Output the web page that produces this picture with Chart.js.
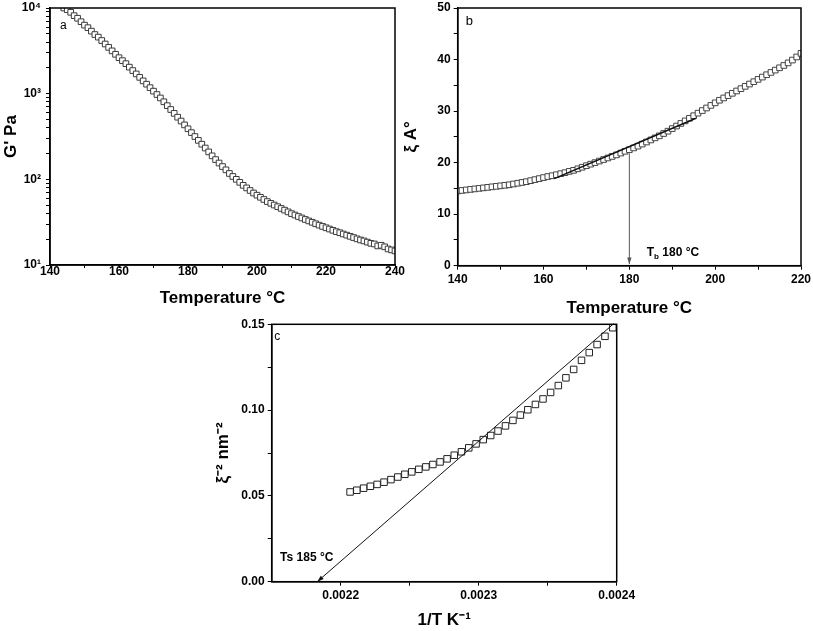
<!DOCTYPE html>
<html lang="en">
<head>
<meta charset="UTF-8">
<title>G', correlation length and inverse square vs temperature</title>
<script src="https://cdn.jsdelivr.net/npm/chart.js"></script>
<style>
  body { margin: 0; background: #fff; overflow: hidden; }
  .panel { position: absolute; }
</style>
</head>
<body>
<div class="panel" style="left:0;top:0;width:405px;height:310px"><canvas id="chartA"></canvas></div>
<div class="panel" style="left:395px;top:0;width:418px;height:322px"><canvas id="chartB"></canvas></div>
<div class="panel" style="left:200px;top:312px;width:450px;height:319px"><canvas id="chartC"></canvas></div>
<script>
// ---- panel a : storage modulus G' (Pa) vs temperature, log axis
const tempA = [
  144, 145, 146, 147, 148, 149, 150, 151, 152, 153,
  154, 155, 156, 157, 158, 159, 160, 161, 162, 163,
  164, 165, 166, 167, 168, 169, 170, 171, 172, 173,
  174, 175, 176, 177, 178, 179, 180, 181, 182, 183,
  184, 185, 186, 187, 188, 189, 190, 191, 192, 193,
  194, 195, 196, 197, 198, 199, 200, 201, 202, 203,
  204, 205, 206, 207, 208, 209, 210, 211, 212, 213,
  214, 215, 216, 217, 218, 219, 220, 221, 222, 223,
  224, 225, 226, 227, 228, 229, 230, 231, 232, 233,
  234, 235, 236, 237, 238, 239, 240
];
const gPrimeA = [
  10000, 9550, 8910, 8130, 7590, 6920, 6310, 5890, 5370, 4900,
  4570, 4170, 3800, 3470, 3160, 2880, 2630, 2430, 2240, 2040,
  1860, 1700, 1550, 1410, 1290, 1175, 1070, 977, 891, 804,
  724, 653, 589, 531, 479, 432, 389, 351, 316, 285,
  257, 232, 209, 188, 170, 155, 141, 129, 117, 108,
  100, 92.3, 85.1, 79.4, 74.1, 69.2, 65.3, 61.7, 58.2, 55.0,
  52.5, 50.1, 47.9, 45.7, 43.7, 41.7, 39.8, 38.3, 36.8, 35.4,
  34.0, 32.7, 31.5, 30.3, 29.2, 28.2, 27.2, 26.3, 25.4, 24.5,
  23.8, 23.0, 22.3, 21.6, 20.9, 20.2, 19.6, 19.1, 18.5, 17.9,
  17.6, 16.7, 17.0, 16.3, 15.4, 15.0, 14.6
];
const xTicksA = [140, 150, 160, 170, 180, 190, 200, 210, 220, 230, 240];
const xLabelsA = ['140', '', '160', '', '180', '', '200', '', '220', '', '240'];
const yTicksA = [10, 20, 30, 40, 50, 60, 70, 80, 90,
  100, 200, 300, 400, 500, 600, 700, 800, 900,
  1000, 2000, 3000, 4000, 5000, 6000, 7000, 8000, 9000, 10000];
const yMajorA = [10, 100, 1000, 10000];
const yMajorTextA = ['10¹', '10²', '10³', '10⁴'];

// ---- panel b : correlation length xi (A) vs temperature
const tempB = [
  140, 141, 142, 143, 144, 145, 146, 147, 148, 149,
  150, 151, 152, 153, 154, 155, 156, 157, 158, 159,
  160, 161, 162, 163, 164, 165, 166, 167, 168, 169,
  170, 171, 172, 173, 174, 175, 176, 177, 178, 179,
  180, 181, 182, 183, 184, 185, 186, 187, 188, 189,
  190, 191, 192, 193, 194, 195, 196, 197, 198, 199,
  200, 201, 202, 203, 204, 205, 206, 207, 208, 209,
  210, 211, 212, 213, 214, 215, 216, 217, 218, 219, 220
];
const xiB = [
  14.5, 14.6, 14.7, 14.8, 14.9, 15.0, 15.1, 15.2, 15.3, 15.4,
  15.5, 15.6, 15.7, 15.85, 16.0, 16.15, 16.3, 16.5, 16.7, 16.9,
  17.1, 17.3, 17.45, 17.65, 17.85, 18.05, 18.3, 18.5, 18.8, 19.1,
  19.4, 19.7, 20.0, 20.3, 20.6, 20.9, 21.2, 21.5, 21.85, 22.2,
  22.5, 22.85, 23.2, 23.6, 24.0, 24.4, 24.8, 25.2, 25.65, 26.1,
  26.6, 27.1, 27.6, 28.1, 28.6, 29.1, 29.6, 30.1, 30.6, 31.1,
  31.6, 32.1, 32.55, 33.0, 33.45, 33.9, 34.35, 34.8, 35.25, 35.7,
  36.15, 36.6, 37.05, 37.5, 37.95, 38.4, 38.85, 39.35, 39.9, 40.5, 41.2
];
const tangentB_T = [162.5, 195.5];
const tangentB_Xi = [16.9, 28.6];
const arrowB_T = [180, 180];
const arrowB_Xi = [21.8, 0.3];
const xTicksB = [140, 150, 160, 170, 180, 190, 200, 210, 220];
const xLabelsB = ['140', '', '160', '', '180', '', '200', '', '220'];
const yTicksB = [0, 5, 10, 15, 20, 25, 30, 35, 40, 45, 50];
const yLabelsB = ['0', '', '10', '', '20', '', '30', '', '40', '', '50'];

// ---- panel c : xi^-2 (nm^-2) vs 1/T (K^-1)
const invTC = [
  0.0022068, 0.0022117, 0.0022166, 0.0022215, 0.0022264, 0.0022314, 0.0022364, 0.0022414,
  0.0022465, 0.0022515, 0.0022566, 0.0022617, 0.0022668, 0.0022720, 0.0022771, 0.0022823,
  0.0022875, 0.0022928, 0.0022981, 0.0023033, 0.0023087, 0.0023140, 0.0023194, 0.0023248,
  0.0023302, 0.0023356, 0.0023411, 0.0023466, 0.0023521, 0.0023577, 0.0023632, 0.0023688,
  0.0023745, 0.0023801, 0.0023858, 0.0023915, 0.0023972
];
const xiInvSqC = [
  0.0523, 0.0533, 0.0545, 0.0556, 0.0567, 0.0580, 0.0595, 0.0610,
  0.0626, 0.0640, 0.0655, 0.0669, 0.0683, 0.0698, 0.0716, 0.0737,
  0.0757, 0.0780, 0.0803, 0.0828, 0.0852, 0.0878, 0.0908, 0.0940,
  0.0971, 0.1002, 0.1033, 0.1065, 0.1103, 0.1143, 0.1188, 0.1237,
  0.1290, 0.1335, 0.1382, 0.1430, 0.1480
];
const fitC_X = [0.002398, 0.002183];
const fitC_Y = [0.1505, 0.0];
const xTicksC = [0.0022, 0.00225, 0.0023, 0.00235, 0.0024];
const xLabelsC = ['0.0022', '', '0.0023', '', '0.0024'];
const yTicksC = [0, 0.025, 0.05, 0.075, 0.10, 0.125, 0.15];
const yLabelsC = ['0.00', '', '0.05', '', '0.10', '', '0.15'];

const FONT = "'Liberation Sans', Arial, sans-serif";
Chart.defaults.font.family = FONT;
Chart.defaults.color = '#000';

function pairs(xs, ys) {
  return xs.map((x, i) => ({ x: x, y: ys[i] }));
}

// one axis with fixed size, explicit ticks, outward tick marks
function axis(o) {
  return {
    type: o.type || 'linear',
    min: o.min,
    max: o.max,
    afterBuildTicks: s => { s.ticks = o.ticks.map(v => ({ value: v })); },
    afterFit: s => {
      if (s.isHorizontal()) s.height = o.size; else s.width = o.size;
      s.paddingLeft = s.paddingRight = s.paddingTop = s.paddingBottom = 0;
    },
    ticks: {
      autoSkip: false, maxRotation: 0, minRotation: 0, color: '#000', padding: o.pad,
      font: { family: FONT, size: 12, weight: 'bold' },
      callback: (v, i) => o.labels(v, i)
    },
    grid: { drawOnChartArea: false, tickLength: o.tickLen, tickColor: '#000', tickWidth: 1 },
    border: { display: true, color: '#000', width: 1.5 },
    title: {
      display: true, text: o.title, color: '#000', padding: o.titlePad,
      font: { family: FONT, size: 17, weight: 'bold' }
    }
  };
}

// frame, arrows and text notes
const extras = {
  id: 'extras',
  afterDatasetsDraw(chart, args, opts) {
    const { ctx, chartArea: a } = chart;
    const sx = chart.scales.x, sy = chart.scales.y;
    ctx.save();
    ctx.strokeStyle = '#000';
    ctx.lineWidth = 1.5;
    ctx.strokeRect(a.left, a.top, a.right - a.left, a.bottom - a.top);

    (opts.arrows || []).forEach(ar => {
      const x0 = sx.getPixelForValue(ar.x[0]), y0 = sy.getPixelForValue(ar.y[0]);
      const x1 = sx.getPixelForValue(ar.x[1]), y1 = sy.getPixelForValue(ar.y[1]);
      ctx.strokeStyle = ar.color;
      ctx.fillStyle = ar.color;
      ctx.lineWidth = 1;
      ctx.beginPath();
      ctx.moveTo(x0, y0);
      ctx.lineTo(x1, y1);
      ctx.stroke();
      const ang = Math.atan2(y1 - y0, x1 - x0);
      ctx.beginPath();
      ctx.moveTo(x1, y1);
      ctx.lineTo(x1 - 7 * Math.cos(ang - 0.32), y1 - 7 * Math.sin(ang - 0.32));
      ctx.lineTo(x1 - 7 * Math.cos(ang + 0.32), y1 - 7 * Math.sin(ang + 0.32));
      ctx.closePath();
      ctx.fill();
    });

    (opts.texts || []).forEach(t => {
      let px = sx.getPixelForValue(t.x);
      const py = sy.getPixelForValue(t.y);
      ctx.fillStyle = '#000';
      ctx.textAlign = 'left';
      ctx.textBaseline = 'middle';
      ctx.font = t.font;
      ctx.fillText(t.text, px, py);
      if (t.sub) {
        px += ctx.measureText(t.text).width;
        ctx.font = t.subFont;
        ctx.fillText(t.sub, px, py + 4);
        px += ctx.measureText(t.sub).width;
        ctx.font = t.font;
        ctx.fillText(t.after, px, py);
      }
    });
    ctx.restore();
  }
};

const common = {
  animation: false,
  responsive: true,
  maintainAspectRatio: false,
  events: []
};

// panel a
new Chart(document.getElementById('chartA'), {
  type: 'scatter',
  data: {
    datasets: [{
      data: pairs(tempA, gPrimeA),
      pointStyle: 'rect', pointRadius: 4,
      borderColor: '#3c3c3c', backgroundColor: '#fff', borderWidth: 1
    }]
  },
  plugins: [extras],
  options: Object.assign({}, common, {
    layout: { padding: { left: 0, top: 8, right: 10, bottom: 0 } },
    plugins: {
      legend: { display: false }, tooltip: { enabled: false },
      extras: { texts: [{ x: 142.9, y: 6180, text: 'a', font: '12px ' + FONT }] }
    },
    scales: {
      x: axis({ min: 140, max: 240, ticks: xTicksA, labels: (v, i) => xLabelsA[i],
        size: 45, tickLen: 3, pad: -4, title: 'Temperature °C', titlePad: { top: 0, bottom: 1.8 } }),
      y: axis({ type: 'logarithmic', min: 10, max: 10000, ticks: yTicksA,
        labels: v => { const k = yMajorA.indexOf(v); return k >= 0 ? yMajorTextA[k] : ''; },
        size: 50, tickLen: 4, pad: 5, title: "G' Pa", titlePad: { top: 0.8, bottom: 0 } })
    }
  })
});

// panel b
new Chart(document.getElementById('chartB'), {
  type: 'scatter',
  data: {
    datasets: [{
      type: 'line', data: pairs(tangentB_T, tangentB_Xi), showLine: true,
      borderColor: '#111', borderWidth: 1.5, pointRadius: 0
    }, {
      data: pairs(tempB, xiB),
      pointStyle: 'rect', pointRadius: 4,
      borderColor: '#444', backgroundColor: '#fff', borderWidth: 1
    }]
  },
  plugins: [extras],
  options: Object.assign({}, common, {
    layout: { padding: { left: 0, top: 8, right: 12, bottom: 0 } },
    plugins: {
      legend: { display: false }, tooltip: { enabled: false },
      extras: {
        arrows: [{ x: arrowB_T, y: arrowB_Xi, color: '#555' }],
        texts: [
          { x: 141.9, y: 47.4, text: 'b', font: '13px ' + FONT },
          { x: 184.05, y: 2.5, text: 'T', sub: 'b', after: ' 180 °C',
            font: 'bold 12px ' + FONT, subFont: 'bold 8px ' + FONT }
        ]
      }
    },
    scales: {
      x: axis({ min: 140, max: 220, ticks: xTicksB, labels: (v, i) => xLabelsB[i],
        size: 56.3, tickLen: 4, pad: 2.4, title: 'Temperature °C', titlePad: { top: 0, bottom: 3.8 } }),
      y: axis({ min: 0, max: 50, ticks: yTicksB, labels: (v, i) => yLabelsB[i],
        size: 62.7, tickLen: 4, pad: 3, title: 'ξ A°', titlePad: { top: 6.5, bottom: 0 } })
    }
  })
});

// panel c
new Chart(document.getElementById('chartC'), {
  type: 'scatter',
  data: {
    datasets: [{
      data: pairs(invTC, xiInvSqC),
      pointStyle: 'rect', pointRadius: 4.6,
      borderColor: '#222', backgroundColor: '#fff', borderWidth: 1
    }]
  },
  plugins: [extras],
  options: Object.assign({}, common, {
    layout: { padding: { left: 0, top: 12.3, right: 33.3, bottom: 0 } },
    plugins: {
      legend: { display: false }, tooltip: { enabled: false },
      extras: {
        arrows: [{ x: fitC_X, y: fitC_Y, color: '#111' }],
        texts: [
          { x: 0.0021519, y: 0.1429, text: 'c', font: '12px ' + FONT },
          { x: 0.0021561, y: 0.0138, text: 'Ts 185 °C', font: 'bold 12px ' + FONT }
        ]
      }
    },
    scales: {
      x: axis({ min: 0.00215, max: 0.0024, ticks: xTicksC, labels: (v, i) => xLabelsC[i],
        size: 49.3, tickLen: 4, pad: 2.8, title: '1/T K⁻¹', titlePad: { top: 0, bottom: 0 } }),
      y: axis({ min: 0, max: 0.15, ticks: yTicksC, labels: (v, i) => yLabelsC[i],
        size: 71.7, tickLen: 4, pad: 3, title: 'ξ⁻² nm⁻²', titlePad: { top: 12.8, bottom: 0 } })
    }
  })
});
</script>
</body>
</html>
